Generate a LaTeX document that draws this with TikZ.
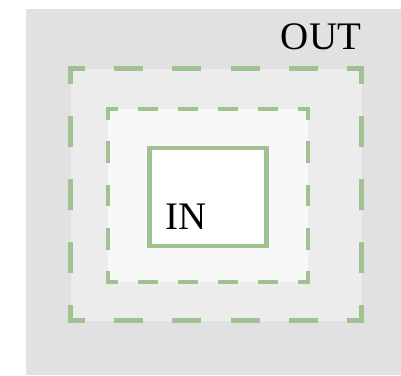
\documentclass[tikz,border=0pt]{standalone}
\usepackage{fontspec}
\setmainfont{Liberation Serif}
\definecolor{bggray}{HTML}{E1E1E1}
\definecolor{outfill}{HTML}{ECECEC}
\definecolor{midfill}{HTML}{F8F8F8}
\definecolor{leaf}{HTML}{A0C191}
\newcommand\hside[5]{%
  \pgfmathsetmacro\ph{#4/2-#5/2}%
  \draw[leaf, line width=#5pt, dash pattern=on #4pt off #4pt, dash phase=\ph pt]
    ({#1-#5/2},#3) -- ({#2+#5/2},#3);}
\newcommand\vside[5]{%
  \pgfmathsetmacro\ph{#4/2-#5/2}%
  \draw[leaf, line width=#5pt, dash pattern=on #4pt off #4pt, dash phase=\ph pt]
    (#3,{#1-#5/2}) -- (#3,{#2+#5/2});}
\tikzset{lbl/.style={inner sep=0pt, anchor=base west, font=\fontsize{39}{39}\selectfont}}
\begin{document}
\begin{tikzpicture}[x=1pt,y=-1pt]
\useasboundingbox (0,0) rectangle (401,375);
\fill[bggray] (26,9) rectangle (401,375);
% outer dashed region
\fill[outfill] (70.5,68.5) rectangle (361.5,320.5);
\hside{70.5}{361.5}{68.5}{29.1}{5}
\hside{70.5}{361.5}{320.5}{29.1}{5}
\vside{68.5}{320.5}{70.5}{31.5}{5}
\vside{68.5}{320.5}{361.5}{31.5}{5}
% middle dashed region
\fill[midfill] (108,109) rectangle (308,282);
\hside{108}{308}{109}{20}{4.6}
\hside{108}{308}{282}{20}{4.6}
\vside{109}{282}{108}{21.625}{4.6}
\vside{109}{282}{308}{21.625}{4.6}
% inner solid region
\draw[leaf, fill=white, line width=4.6pt] (149.7,148) rectangle (266.7,246);
\node[lbl] (out) at (280.7,49) {OUT};
\node[lbl] (in) at (165.3,229) {IN};
\end{tikzpicture}
\end{document}
